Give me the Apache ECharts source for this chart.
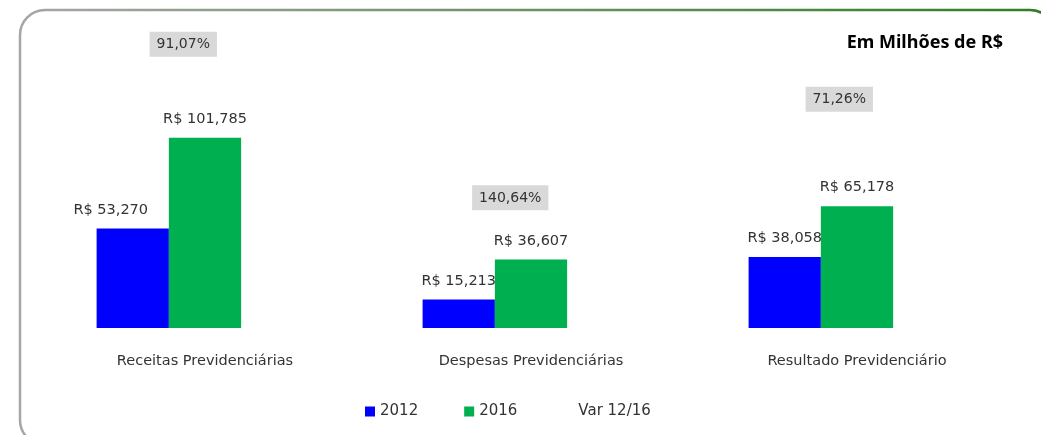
<!DOCTYPE html>
<html>
<head>
    <meta charset="utf-8">
    <title>Previdência 2012 x 2016</title>
    <script src="https://cdn.jsdelivr.net/npm/echarts@6/dist/echarts.min.js"></script>
</head>
<body style="margin:0;background:#fff;">
    <div id="main" style="width:1041px;height:435px;"></div>
    <script type="text/javascript">
        // dados (em milhões de R$)
        var categorias = ['Receitas Previdenciárias', 'Despesas Previdenciárias', 'Resultado Previdenciário'];
        var valores2012 = [53.270, 15.213, 38.058];
        var valores2016 = [101.785, 36.607, 65.178];
        var variacao = [91.07, 140.64, 71.26];

        // deslocamento das caixas de variação (estilo, não dado)
        var deslocVar = [[-94, -96], [-93, 150], [-90, -78]];

        var fonte = 'DejaVu Sans';

        function moeda(v) {
            return 'R$ ' + v.toFixed(3).replace('.', ',');
        }

        var myChart = echarts.init(document.getElementById('main'));

        var option = {
            animation: false,
            textStyle: { fontFamily: fonte },
            graphic: [{
                type: 'rect',
                shape: { x: 20, y: 10, width: 1035, height: 435, r: 25 },
                style: {
                    fill: 'none',
                    lineWidth: 2.5,
                    stroke: new echarts.graphic.LinearGradient(0, 0, 1, 0, [
                        { offset: 0, color: '#A6A6A6' },
                        { offset: 1, color: '#2E7D22' }
                    ])
                },
                silent: true
            }, {
                type: 'text',
                right: 38,
                top: 34,
                style: {
                    text: 'Em Milhões de R$',
                    font: 'bold 18px "Noto Sans"',
                    fill: '#000'
                }
            }],
            legend: {
                left: 365,
                top: 404,
                padding: 0,
                itemWidth: 10,
                itemHeight: 10,
                itemGap: 46,
                icon: 'rect',
                textStyle: { fontFamily: fonte, fontSize: 15, color: '#333' },
                data: ['2012', '2016', 'Var 12/16']
            },
            grid: { left: 42, width: 978, top: 29, bottom: 107 },
            xAxis: {
                type: 'category',
                data: categorias,
                axisLine: { show: false },
                axisTick: { show: false },
                axisLabel: { margin: 26, fontSize: 14.5, color: '#333', fontFamily: fonte }
            },
            yAxis: [
                { type: 'value', min: 0, max: 160, show: false },
                { type: 'value', min: 0, max: 160, show: false }
            ],
            series: [{
                name: '2012',
                type: 'bar',
                barGap: '0%',
                barCategoryGap: '33.5%',
                itemStyle: { color: '#0000FF' },
                label: {
                    show: true, position: 'top', distance: 11,
                    fontSize: 14.5, color: '#333', fontFamily: fonte,
                    formatter: function (p) { return moeda(p.value); }
                },
                data: valores2012.map(function (v, i) {
                    return i === 0 ? { value: v, label: { offset: [-22, 0] } } : v;
                })
            }, {
                name: '2016',
                type: 'bar',
                itemStyle: { color: '#00B050' },
                label: {
                    show: true, position: 'top', distance: 11,
                    fontSize: 14.5, color: '#333', fontFamily: fonte,
                    formatter: function (p) { return moeda(p.value); }
                },
                data: valores2016
            }, {
                name: 'Var 12/16',
                type: 'bar',
                yAxisIndex: 1,
                itemStyle: { color: 'rgba(0,0,0,0)' },
                label: {
                    show: true, position: 'top', distance: 5,
                    fontSize: 14, color: '#333', fontFamily: fonte,
                    backgroundColor: '#D9D9D9',
                    padding: [6, 7, 5, 7],
                    formatter: function (p) { return p.value.toFixed(2).replace('.', ',') + '%'; }
                },
                data: variacao.map(function (v, i) {
                    return { value: v, label: { offset: deslocVar[i] } };
                })
            }]
        };

        myChart.setOption(option);
    </script>
</body>
</html>
